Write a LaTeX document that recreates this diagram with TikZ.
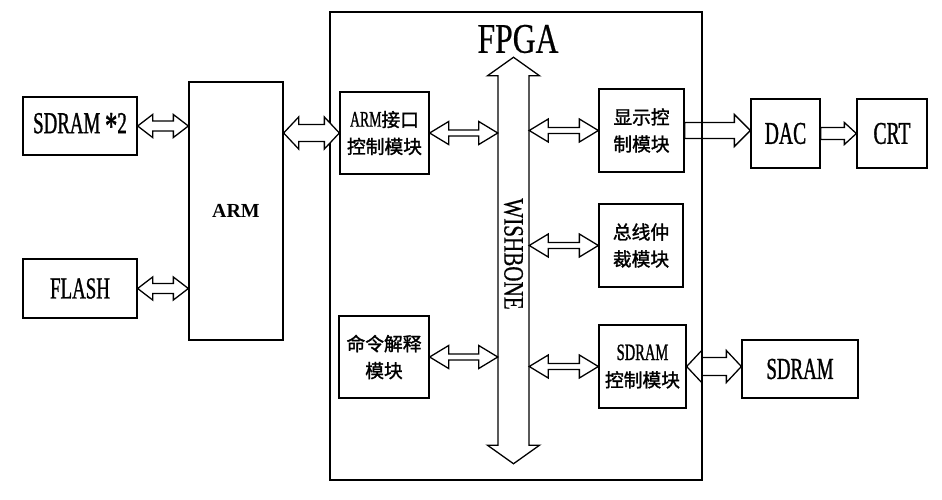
\documentclass[tikz,border=0pt]{standalone}
\usepackage{fontspec}
\setmainfont{Liberation Serif}[FakeStretch=0.62, FakeBold=1]
\newfontfamily\armfont{Liberation Serif}
\newfontfamily\titlefont{Liberation Serif}[FakeStretch=0.75, FakeBold=0.5]
\newfontfamily\cjk{Noto Sans CJK SC}[FakeBold=1.5]
\usetikzlibrary{calc}

\newcommand\pxu{0.03cm}
% hollow arrows: #1 start, #2 end, #3 half shaft, #4 half head, #5 head length (px)
\newcommand\dblarrow[6][]{%
  \draw[hollow, #1] let \p1=#2, \p2=#3 in
    (\x1,\y1) -- (\x1+#6*\pxu,\y1+#5*\pxu) -- (\x1+#6*\pxu,\y1+#4*\pxu)
    -- (\x2-#6*\pxu,\y1+#4*\pxu) -- (\x2-#6*\pxu,\y1+#5*\pxu) -- (\x2,\y1)
    -- (\x2-#6*\pxu,\y1-#5*\pxu) -- (\x2-#6*\pxu,\y1-#4*\pxu)
    -- (\x1+#6*\pxu,\y1-#4*\pxu) -- (\x1+#6*\pxu,\y1-#5*\pxu) -- cycle;}
\newcommand\onearrow[6][]{%
  \draw[hollow, #1] let \p1=#2, \p2=#3 in
    (\x1,\y1+#4*\pxu) -- (\x2-#6*\pxu,\y1+#4*\pxu) -- (\x2-#6*\pxu,\y1+#5*\pxu)
    -- (\x2,\y1) -- (\x2-#6*\pxu,\y1-#5*\pxu) -- (\x2-#6*\pxu,\y1-#4*\pxu)
    -- (\x1,\y1-#4*\pxu) -- cycle;}
\newcommand\busarrow[5]{%
  \draw[hollow] let \p1=#1, \p2=#2 in
    (\x1,\y1+#5*\pxu) -- (\x1+#4*\pxu,\y1) -- (\x1+#3*\pxu,\y1)
    -- (\x1+#3*\pxu,\y2) -- (\x1+#4*\pxu,\y2) -- (\x1,\y2-#5*\pxu)
    -- (\x1-#4*\pxu,\y2) -- (\x1-#3*\pxu,\y2) -- (\x1-#3*\pxu,\y1)
    -- (\x1-#4*\pxu,\y1) -- cycle;}

\tikzset{
  box/.style      = {draw, line width=1.1pt, inner sep=0pt, align=center},
  sz/.style 2 args = {minimum width=#1*0.03cm, minimum height=#2*0.03cm},
  latin/.style    = {font=\fontsize{26}{28}\selectfont},
  hanzi/.style    = {font=\cjk\fontsize{16}{23}\selectfont},
  hollow/.style   = {draw, line width=1.1pt, fill=white, line join=miter}
}

\begin{document}
\begin{tikzpicture}[x=0.03cm, y=-0.03cm]
    \useasboundingbox (0,0) rectangle (942,500);

    % ── Left side: memories and ARM ─────────────────────────────────────
    \node[box, sz={114}{58}, latin] (sd2) at (80,126)
      {SDRAM {\fontsize{34}{34}\selectfont\raisebox{-5pt}{*}}2};
    \node[box, sz={114}{59}, latin] (flash) at (80,288.5) {FLASH};
    \node[box, sz={94}{258}, font=\armfont\bfseries\fontsize{17}{20}\selectfont] (arm) at (236,211) {ARM};

    \dblarrow{(sd2.east)}{(arm.west|-sd2.east)}{5}{11.5}{15}
    \dblarrow{(flash.east)}{(arm.west|-flash.east)}{5}{11.5}{15}

    % ── FPGA frame ──────────────────────────────────────────────────────
    \node[box, sz={372}{468}] (fpga) at (516,246) {};
    \node[font=\titlefont\fontsize{36}{40}\selectfont] (fpgat) at (518,39) {FPGA};

    % modules inside the FPGA
    \node[box, sz={89}{82}, hanzi] (ai) at (384.5,133)
      {{\rmfamily\fontsize{19}{23}\selectfont ARM}接口\\控制模块};
    \node[box, sz={90}{82}, hanzi] (cmd) at (384,357) {命令解释\\模块};
    \node[box, sz={85}{83}, hanzi] (disp) at (641.5,130.5) {显示控\\制模块};
    \node[box, sz={84}{83}, hanzi] (arb) at (641,245.5) {总线仲\\裁模块};
    \node[box, sz={87}{83}, hanzi] (sdc) at (642.5,366.5)
      {{\rmfamily\fontsize{20}{23}\selectfont SDRAM}\\控制模块};

    \dblarrow{(arm.east|-ai.west)}{(ai.west)}{8.5}{16}{15}

    % WISHBONE bus
    \node[sz={31}{369}, inner sep=0pt] (bus) at (513.5,260.5) {};
    \busarrow{(bus.north)}{(bus.south)}{15.5}{26}{18.5}
    \node[rotate=-90, font=\titlefont\fontsize{24}{26}\selectfont] (wb) at (513.5,254) {WISHBONE};

    \dblarrow{(ai.east)}{(bus.west|-ai.east)}{3}{11.5}{19}
    \dblarrow{(cmd.east)}{(bus.west|-cmd.east)}{3}{11.5}{19}
    \dblarrow{(bus.east|-disp.west)}{(disp.west)}{3}{11.5}{19}
    \dblarrow{(bus.east|-arb.west)}{(arb.west)}{3}{11.5}{19}
    \dblarrow{(bus.east|-sdc.west)}{(sdc.west)}{3}{11.5}{19}

    % ── Right side: display chain and SDRAM ─────────────────────────────
    \node[box, sz={69}{69}, font=\fontsize{27}{29}\selectfont] (dac) at (785.5,133.5) {DAC};
    \node[box, sz={70}{69}, font=\fontsize{27}{29}\selectfont] (crt) at (892,133.5) {CRT};
    \node[box, sz={116}{58}, latin] (sdram) at (800,369) {SDRAM};

    \onearrow[fill=none]{(disp.east)}{(dac.west|-disp.east)}{8}{16}{16}
    \onearrow{(dac.east)}{(crt.west)}{6}{11}{12}
    \dblarrow[fill=none]{(sdc.east)}{(sdram.west|-sdc.east)}{9}{16}{15}

\end{tikzpicture}
\end{document}
